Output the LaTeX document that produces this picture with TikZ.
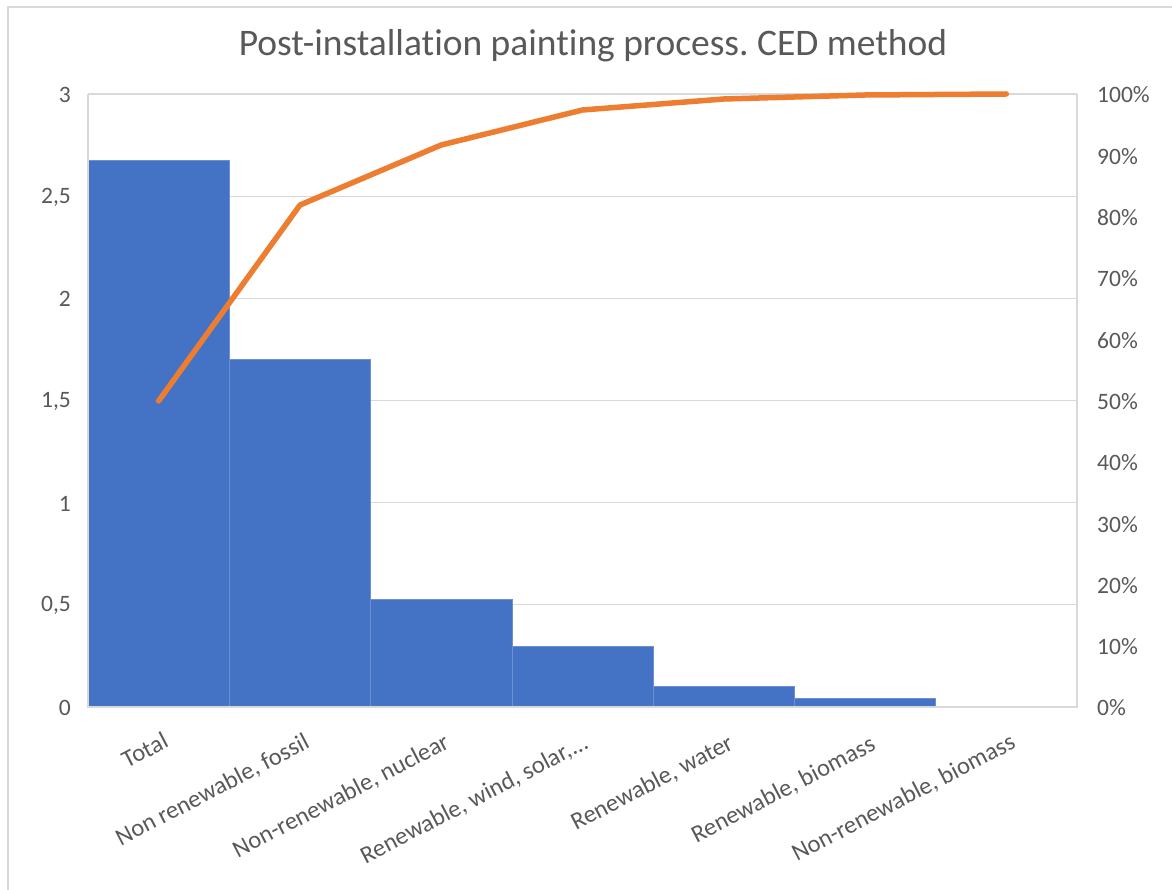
\documentclass[tikz,border=0pt]{standalone}
\usepackage{fontspec}
\setmainfont{Carlito}[Ligatures=NoCommon]
\frenchspacing
\definecolor{txt}{HTML}{595959}
\definecolor{grid}{HTML}{D9D9D9}
\definecolor{bar}{HTML}{4472C4}
\definecolor{barline}{HTML}{6E90D2}
\definecolor{cum}{HTML}{ED7D31}
\tikzset{
  axlab/.style={text=txt,inner sep=0pt,font=\fontsize{23.5}{27}\selectfont},
  catlab/.style={text=txt,inner sep=0pt,font=\fontsize{24.5}{28}\selectfont,anchor=north east,rotate=27.5},
  gridline/.style={draw=grid,line width=1.3pt},
  barbox/.style={fill=bar,draw=barline,line width=0.6pt},
  cumline/.style={draw=cum,line width=5.5pt,line cap=round,line join=round}
}
\begin{document}
\begin{tikzpicture}[x=1pt,y=-1pt]
\useasboundingbox (0,0) rectangle (1172,890);
\fill[white] (0,0) rectangle (1172,890);
% outer chart frame (top and left visible)
\draw[grid,line width=1.3pt] (8,890) -- (8,7) -- (1172,7);
% title
\node[text=txt,inner sep=0pt,font=\fontsize{37.5}{44}\selectfont] (title) at (593,46) {Post-installation painting process. CED method};
% gridlines
\foreach \y in {94,196.2,298.3,400.5,502.7,604.8}
  \draw[gridline] (88,\y) -- (1077,\y);
% bars
\draw[barbox] (88,707) rectangle (229.3,160);
\draw[barbox] (229.3,707) rectangle (370.6,359);
\draw[barbox] (370.6,707) rectangle (511.9,599);
\draw[barbox] (511.9,707) rectangle (653.1,646);
\draw[barbox] (653.1,707) rectangle (794.4,686);
\draw[barbox] (794.4,707) rectangle (935.7,698);
% plot area border
\draw[gridline] (88,94) -- (88,707) -- (1077,707) -- (1077,94);
% left axis labels
\foreach \v/\lab [count=\i from 0] in {708/0,605.8/{0,5},503.7/1,401.5/{1,5},299.3/2,197.2/{2,5},95/3}
  \node[axlab,anchor=east] (yl\i) at (71,\v) {\lab};
% right axis labels
\foreach \p [count=\i from 0] in {0,10,...,100}
  \node[axlab,anchor=west] (yr\i) at (1097,{708-6.13*\p}) {\p\%};
% category labels
\node[catlab] (xl1) at (162,731) {Total};
\node[catlab] (xl2) at (303,732) {Non renewable, fossil};
\node[catlab] (xl3) at (443,732) {Non-renewable, nuclear};
\node[catlab] (xl4) at (582,732) {Renewable, wind, solar,...};
\node[catlab] (xl5) at (727,733) {Renewable, water};
\node[catlab] (xl6) at (869,734) {Renewable, biomass};
\node[catlab] (xl7) at (1009,732) {Non-renewable, biomass};
% cumulative line
\coordinate (c1) at (158.6,401);
\coordinate (c2) at (300,205);
\coordinate (c3) at (441.2,145);
\coordinate (c4) at (582.5,110);
\coordinate (c5) at (723.8,99);
\coordinate (c6) at (865,95);
\coordinate (c7) at (1006.3,94);
\draw[cumline] (c1) -- (c2) -- (c3) -- (c4) -- (c5) -- (c6) -- (c7);
\end{tikzpicture}
\end{document}
